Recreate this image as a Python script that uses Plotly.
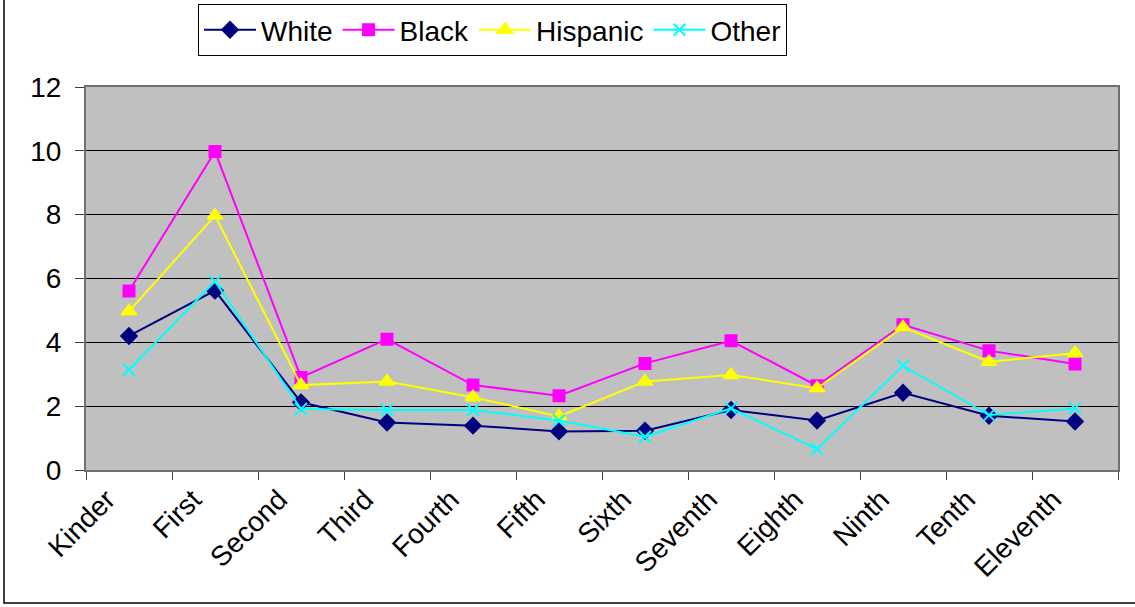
import plotly.graph_objects as go

grades = ["Kinder", "First", "Second", "Third", "Fourth", "Fifth",
          "Sixth", "Seventh", "Eighth", "Ninth", "Tenth", "Eleventh"]

white = [4.2, 5.62, 2.12, 1.49, 1.39, 1.21, 1.23, 1.88, 1.55, 2.42, 1.70, 1.52]
black = [5.61, 9.98, 2.90, 4.10, 2.66, 2.33, 3.34, 4.05, 2.64, 4.55, 3.74, 3.32]
hispanic = [4.97, 7.97, 2.66, 2.77, 2.28, 1.68, 2.77, 2.98, 2.56, 4.47, 3.39, 3.66]
other = [3.14, 5.91, 1.91, 1.88, 1.88, 1.55, 1.04, 1.93, 0.66, 3.27, 1.72, 1.93]

y_ticks = [0, 2, 4, 6, 8, 10, 12]

series = [
    ("White", white, "#000080", "diamond", 12),
    ("Black", black, "#FF00FF", "square", 11),
    ("Hispanic", hispanic, "#FFFF00", "triangle-up", 13),
    ("Other", other, "#00FFFF", "x-thin-open", 12),
]

fig = go.Figure()
for name, vals, color, symbol, size in series:
    fig.add_trace(go.Scatter(
        x=grades, y=vals, name=name, mode="lines+markers",
        line=dict(color=color, width=2),
        marker=dict(symbol=symbol, size=size, color=color,
                    line=dict(color=color, width=2)),
    ))

W, H = 1135, 607
L, R, T, B = 86, 17, 87, 137
pw, ph = W - L - R, H - T - B

fig.update_layout(
    width=W, height=H,
    margin=dict(l=L, r=R, t=T, b=B, autoexpand=False),
    paper_bgcolor="white",
    plot_bgcolor="#C0C0C0",
    font=dict(family="Liberation Sans, Arial, sans-serif", size=28, color="black"),
    showlegend=True,
    legend=dict(
        orientation="h",
        x=(198 - L) / pw, y=1 + (T - 4) / ph,
        xanchor="left", yanchor="top",
        bordercolor="black", borderwidth=1,
        bgcolor="white",
        font=dict(size=28),
        itemwidth=52,
        tracegroupgap=0,
    ),
    shapes=[dict(
        type="rect", xref="paper", yref="paper",
        x0=(4 - L) / pw, x1=1.2,
        y0=-(603 - (H - B)) / ph, y1=1.4,
        line=dict(color="black", width=1.5),
        fillcolor="rgba(0,0,0,0)", layer="below",
    )],
)

fig.update_xaxes(
    type="category",
    range=[-0.5, 11.5],
    tickangle=-45,
    tickson="boundaries",
    ticks="outside", ticklen=8, tickcolor="#404040",
    showgrid=False,
    showline=True, linecolor="#707070", linewidth=2, mirror=True,
    tickfont=dict(size=28),
    ticklabelshift=-22,
)
fig.update_yaxes(
    range=[0, 12],
    tickvals=y_ticks,
    ticks="outside", ticklen=9, tickcolor="#404040",
    showgrid=True, gridcolor="black", gridwidth=1,
    zeroline=False,
    showline=True, linecolor="#707070", linewidth=2, mirror=True,
    tickfont=dict(size=28),
    ticklabelstandoff=8,
)

fig.write_html("out.html")
